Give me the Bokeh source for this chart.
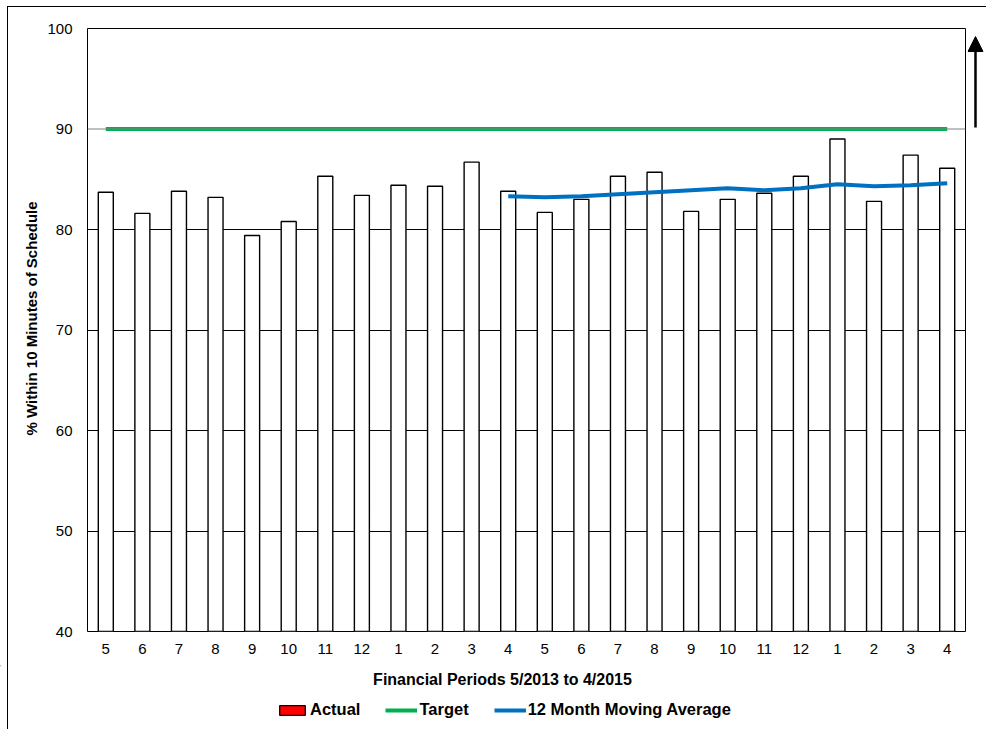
from bokeh.plotting import figure
from bokeh.layouts import row, column
from bokeh.models import (FixedTicker, Span, Arrow, NormalHead, Legend, LegendItem,
                          ColumnDataSource, Title, Range1d)
from bokeh.core.properties import value
from bokeh.embed import file_html
from bokeh.resources import INLINE

# ---- data ----
periods = ["5", "6", "7", "8", "9", "10", "11", "12", "1", "2", "3", "4",
           "5", "6", "7", "8", "9", "10", "11", "12", "1", "2", "3", "4"]
actual = [83.7, 81.6, 83.8, 83.2, 79.4, 80.8, 85.3, 83.4, 84.4, 84.3, 86.7, 83.8,
          81.7, 83.0, 85.3, 85.7, 81.8, 83.0, 83.6, 85.3, 89.0, 82.8, 87.4, 86.1]
target = [90] * 24
moving_avg_start = 12  # position (1-based) of first moving-average point
moving_avg = [83.3, 83.2, 83.3, 83.5, 83.7, 83.9, 84.1, 83.9, 84.1, 84.5, 84.3, 84.4, 84.6]
y_ticks = [40, 50, 60, 70, 80, 90, 100]
x_title = "Financial Periods 5/2013 to 4/2015"
y_title = "% Within 10 Minutes of Schedule"
legend_labels = ["Actual", "Target", "12 Month Moving Average"]

pos = list(range(1, len(periods) + 1))
ma_pos = list(range(moving_avg_start, moving_avg_start + len(moving_avg)))

FONT = "Liberation Sans"
RED, GREEN, BLUE = "#FF0000", "#00B050", "#0070C0"

# ---------------- main chart ----------------
p = figure(frame_width=878, frame_height=603,
           min_border_left=87, min_border_right=2, min_border_top=28, min_border_bottom=34,
           x_range=(0.5, 24.5), y_range=(40, 100),
           output_backend="svg", toolbar_location=None,
           background_fill_color="white", border_fill_alpha=0)

p.outline_line_color = "black"
p.outline_line_width = 1
p.outline_line_alpha = 1

p.xaxis.ticker = FixedTicker(ticks=pos)
p.xaxis.major_label_overrides = {i: lab for i, lab in zip(pos, periods)}
p.yaxis.ticker = FixedTicker(ticks=y_ticks)
for ax in (p.xaxis[0], p.yaxis[0]):
    ax.axis_line_color = None
    ax.major_tick_line_color = None
    ax.minor_tick_line_color = None
    ax.major_label_text_font = FONT
    ax.major_label_text_font_size = "15px"
    ax.major_label_text_color = "black"
p.xaxis.major_label_standoff = 6
p.yaxis.major_label_standoff = 9

p.add_layout(Title(text=y_title, align="left", offset=196, text_font=FONT,
                   text_font_size="15px", text_font_style="bold", text_color="black",
                   standoff=10), "left")

p.xgrid.grid_line_color = None
p.ygrid.ticker = FixedTicker(ticks=[50, 60, 70, 80])
p.ygrid.grid_line_color = "black"
p.ygrid.grid_line_width = 1
p.ygrid.grid_line_alpha = 1
p.add_layout(Span(location=90, dimension="width", line_color="#808080", line_width=1))

src = ColumnDataSource(dict(x=pos, top=actual))
p.vbar(x="x", top="top", bottom=40, width=0.41, source=src,
       fill_color="white", line_color="black", line_width=1.4)
p.line(pos, target, line_color=GREEN, line_width=4)
p.line(ma_pos, moving_avg, line_color=BLUE, line_width=4)

# ---------------- narrow figure with the arrow ----------------
side = figure(frame_width=19, frame_height=603,
              min_border_left=0, min_border_right=0, min_border_top=28, min_border_bottom=34,
              x_range=(0, 19), y_range=(40, 100),
              x_axis_location=None, y_axis_location=None,
              output_backend="svg", toolbar_location=None,
              background_fill_alpha=0, border_fill_alpha=0)
side.outline_line_color = None
side.grid.visible = False
side.add_layout(Arrow(end=NormalHead(size=15, fill_color="black", line_color="black"),
                      x_start=8, y_start=90.15, x_end=8, y_end=99.2,
                      line_color="black", line_width=2.5))

# ---------------- bottom strip: x title + legend ----------------
bot = figure(frame_width=986, frame_height=64,
             min_border_left=0, min_border_right=0, min_border_top=0, min_border_bottom=0,
             x_range=Range1d(0, 986), y_range=Range1d(64, 0),
             x_axis_location=None, y_axis_location=None,
             output_backend="svg", toolbar_location=None,
             background_fill_alpha=0, border_fill_alpha=0)
bot.outline_line_color = None
bot.grid.visible = False
bot.text(x=[502], y=[14], text=[x_title], text_align="center", text_baseline="middle",
         text_font=value(FONT), text_font_size="16px", text_font_style="bold",
         text_color="black")

# legend-only proxies, drawn far outside this strip's visible range
OFF = -10000
r_act = bot.vbar(x=[OFF], top=[OFF + 1], bottom=OFF, width=1, fill_color=RED,
                 line_color="black", line_width=1.3)
r_tgt = bot.line(x=[OFF, OFF + 1], y=[OFF, OFF], line_color=GREEN, line_width=4)
r_ma = bot.line(x=[OFF, OFF + 1], y=[OFF, OFF], line_color=BLUE, line_width=4)

legend = Legend(items=[LegendItem(label=legend_labels[0], renderers=[r_act]),
                       LegendItem(label=legend_labels[1], renderers=[r_tgt]),
                       LegendItem(label=legend_labels[2], renderers=[r_ma])],
                orientation="horizontal", location=(276, 10),
                glyph_width=32, glyph_height=12, label_height=12,
                label_standoff=2, spacing=25, padding=0, margin=0,
                label_text_font=FONT, label_text_font_size="16.5px",
                label_text_font_style="bold", label_text_color="black",
                border_line_color=None, background_fill_alpha=0)
bot.add_layout(legend, "center")

layout = column(row(p, side, spacing=0), bot, spacing=0)
layout.styles = {
    "background": "linear-gradient(#000,#000) 7px 6px / 1px calc(100% - 6px) no-repeat, "
                  "linear-gradient(#000,#000) 7px 6px / calc(100% - 7px) 1px no-repeat, #ffffff"
}

open("out.html", "w").write(file_html(layout, INLINE))
